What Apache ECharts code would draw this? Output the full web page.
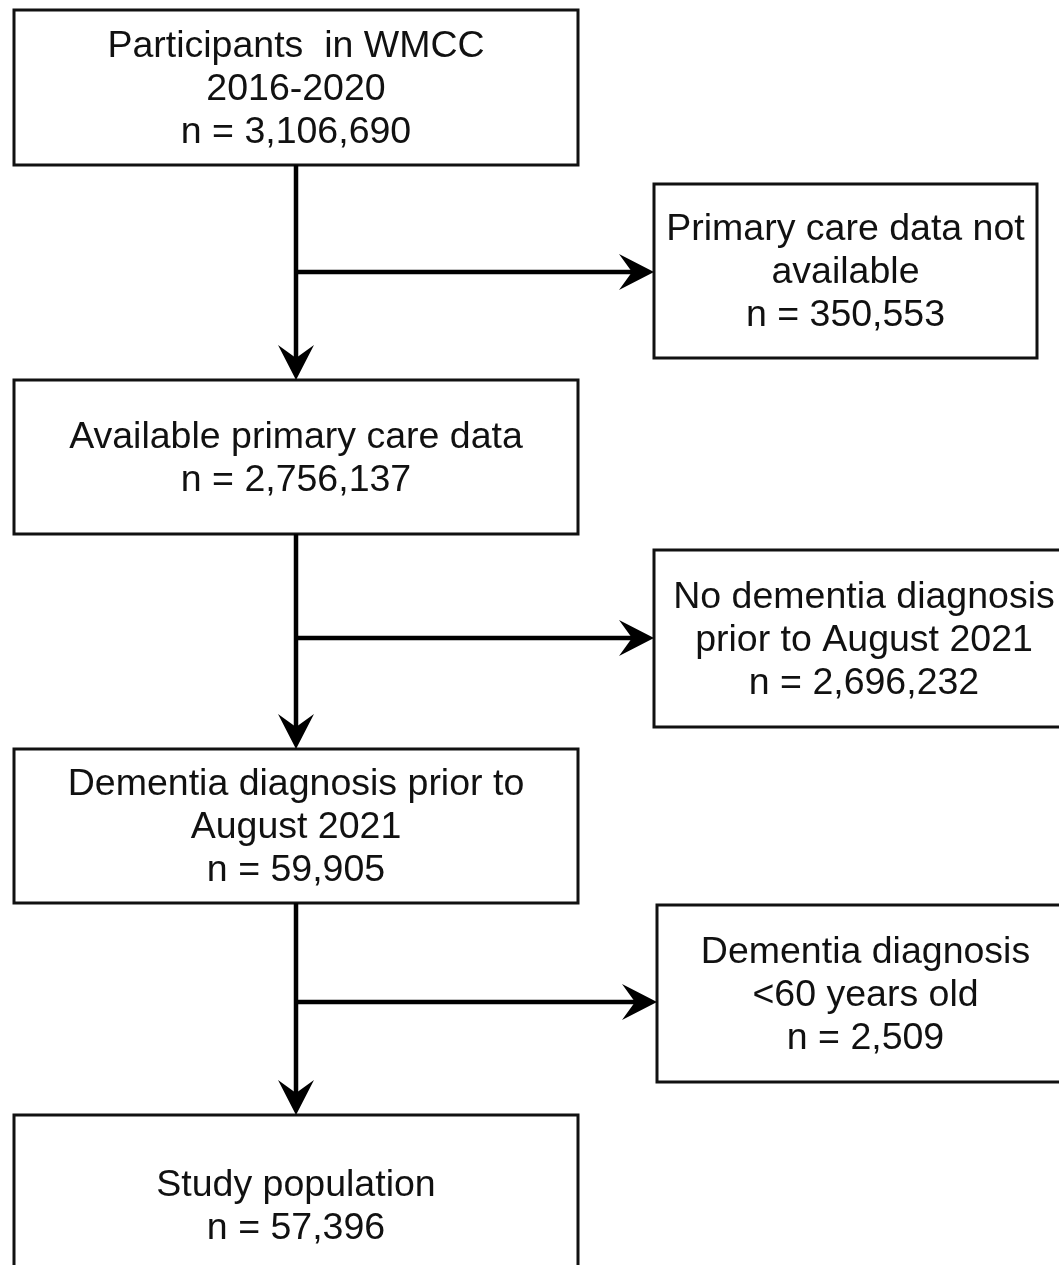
<!DOCTYPE html>
<html>
<head>
<meta charset="utf-8">
<script src="https://cdn.jsdelivr.net/npm/echarts@6/dist/echarts.min.js"></script>
<style>
  html, body { margin: 0; padding: 0; background: #fff; }
  #chart { width: 1059px; height: 1265px; }
</style>
</head>
<body>
<div id="chart"></div>
<script>
// flow steps (left column) and exclusions (right column)
const stepLabels = [
  "Participants  in WMCC\n2016-2020",
  "Available primary care data",
  "Dementia diagnosis prior to\nAugust 2021",
  "Study population",
];
const stepCounts = [3106690, 2756137, 59905, 57396];
const exclusionLabels = [
  "Primary care data not\navailable",
  "No dementia diagnosis\nprior to August 2021",
  "Dementia diagnosis\n<60 years old",
];
const exclusionCounts = [350553, 2696232, 2509];

// layout, in axis units (axes run 0..1059 and 0..1265)
const stepX = [14, 578];
const stepY = [[10, 165], [380, 534], [749, 903], [1115, 1296]];
const exclusionX = [[654, 1037], [654, 1074], [657, 1074]];
const exclusionY = [[184, 358], [550, 727], [905, 1082]];
const branchY = [272, 638, 1002];
const trunkX = 296;

const FONT = '37.5px "Liberation Sans", Arial, Helvetica, sans-serif';
const fmt = (n) => "n = " + n.toLocaleString("en-US");

// box data: [x0, y0, x1, y1]
const boxes = [];
const boxText = [];
stepLabels.forEach((l, i) => {
  boxes.push([stepX[0], stepY[i][0], stepX[1], stepY[i][1]]);
  boxText.push(l + "\n" + fmt(stepCounts[i]));
});
exclusionLabels.forEach((l, i) => {
  boxes.push([exclusionX[i][0], exclusionY[i][0], exclusionX[i][1], exclusionY[i][1]]);
  boxText.push(l + "\n" + fmt(exclusionCounts[i]));
});

// connector data: [trunkX, fromY, toY, branchY, branchToX]
const links = branchY.map((b, i) => [trunkX, stepY[i][1], stepY[i + 1][0], b, exclusionX[i][0]]);

function arrowHead(tip, dir) {
  // stealth style head, dir: 'down' or 'right'
  const len = 35, half = 18, notch = 22;
  if (dir === "down") {
    return [[tip[0], tip[1]], [tip[0] - half, tip[1] - len], [tip[0], tip[1] - notch], [tip[0] + half, tip[1] - len]];
  }
  return [[tip[0], tip[1]], [tip[0] - len, tip[1] - half], [tip[0] - notch, tip[1]], [tip[0] - len, tip[1] + half]];
}

const chart = echarts.init(document.getElementById("chart"));
chart.setOption({
  animation: false,
  grid: { left: 0, right: 0, top: 0, bottom: 0 },
  xAxis: { type: "value", min: 0, max: 1059, show: false },
  yAxis: { type: "value", min: 0, max: 1265, inverse: true, show: false },
  series: [
    {
      type: "custom",
      clip: false,
      data: boxes,
      renderItem: function (params, api) {
        const p0 = api.coord([api.value(0), api.value(1)]);
        const p1 = api.coord([api.value(2), api.value(3)]);
        return {
          type: "group",
          children: [
            {
              type: "rect",
              shape: { x: p0[0], y: p0[1], width: p1[0] - p0[0], height: p1[1] - p0[1] },
              style: { fill: "#fff", stroke: "#111", lineWidth: 3 },
            },
            {
              type: "text",
              style: {
                text: boxText[params.dataIndex],
                x: (p0[0] + p1[0]) / 2,
                y: (p0[1] + p1[1]) / 2 + 2,
                align: "center",
                verticalAlign: "middle",
                font: FONT,
                lineHeight: 43,
                fill: "#111",
              },
            },
          ],
        };
      },
    },
    {
      type: "custom",
      clip: false,
      data: links,
      renderItem: function (params, api) {
        const top = api.coord([api.value(0), api.value(1)]);
        const tip = api.coord([api.value(0), api.value(2)]);
        const br = api.coord([api.value(0), api.value(3)]);
        const side = api.coord([api.value(4), api.value(3)]);
        return {
          type: "group",
          children: [
            {
              type: "polyline",
              shape: { points: [top, [tip[0], tip[1] - 22]] },
              style: { stroke: "#000", lineWidth: 4.5, fill: null },
            },
            {
              type: "polyline",
              shape: { points: [br, [side[0] - 22, side[1]]] },
              style: { stroke: "#000", lineWidth: 4.5, fill: null },
            },
            { type: "polygon", shape: { points: arrowHead(tip, "down") }, style: { fill: "#000" } },
            { type: "polygon", shape: { points: arrowHead(side, "right") }, style: { fill: "#000" } },
          ],
        };
      },
    },
  ],
});
window.onresize = () => chart.resize();
</script>
</body>
</html>
